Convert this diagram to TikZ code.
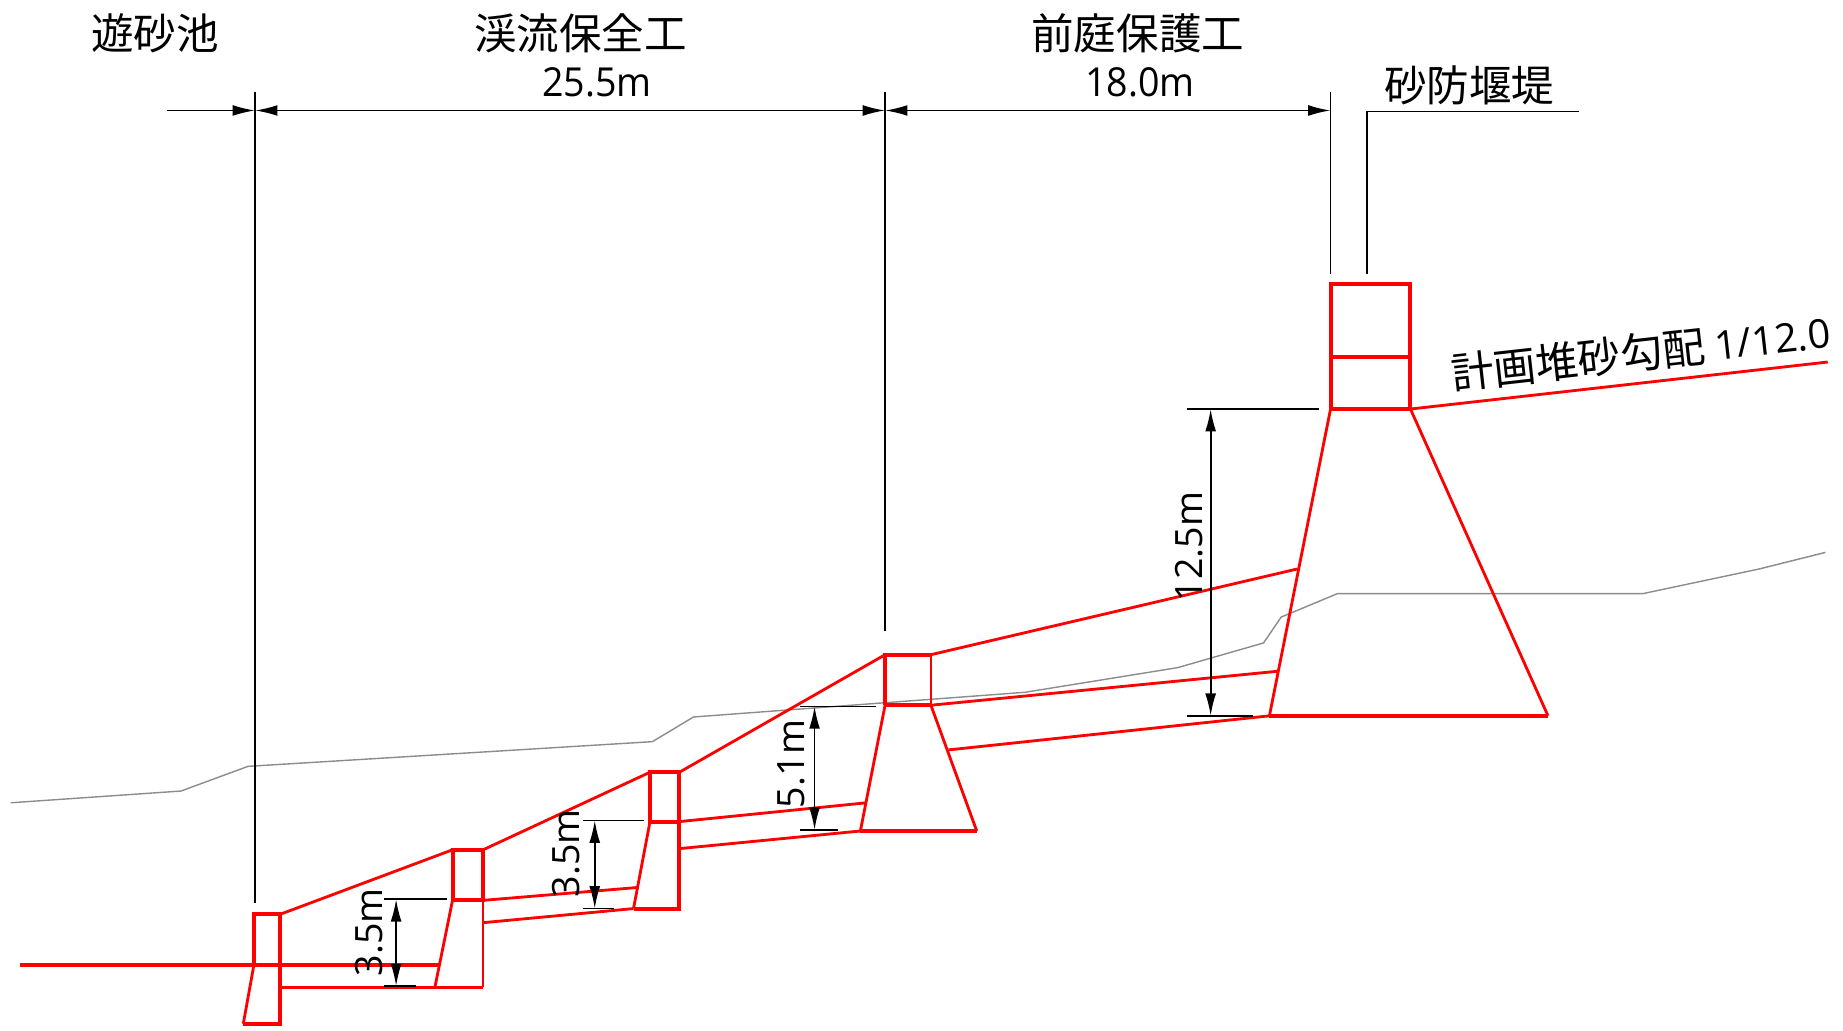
\documentclass[tikz,border=0pt]{standalone}
\usepackage{fontspec}
\setmainfont{Open Sans}
\newfontfamily\cjk{Noto Sans CJK JP}
\usetikzlibrary{arrows.meta}
\tikzset{
  x=0.5pt,y=-0.5pt,
  redthick/.style={draw=red,line width=1.7pt,line join=miter},
  redthin/.style={draw=red,line width=1.2pt},
  ground/.style={draw=black!45,line width=0.6pt},
  leader/.style={draw=black,line width=0.7pt},
  dim/.style={draw=black,line width=0.75pt,{Latex[length=9.5pt,width=4.6pt]}-{Latex[length=9.5pt,width=4.6pt]}},
  dimr/.style={draw=black,line width=0.75pt,-{Latex[length=9.5pt,width=4.6pt]}},
  jp/.style={font=\cjk\fontsize{18.1}{20}\selectfont,inner sep=0pt},
  num/.style={font=\fontsize{17}{20}\selectfont,inner sep=0pt},
  numv/.style={font=\fontsize{16}{20}\selectfont,inner sep=0pt},
}
\begin{document}
\begin{tikzpicture}
\useasboundingbox (0,0) rectangle (1568,877);
% ground
\draw[ground] (9,683) -- (154,673) -- (211,652) -- (555,631) -- (590,610) -- (872,589) -- (1002,568) -- (1075,547) -- (1090,525) -- (1138,505) -- (1398,505) -- (1497,484) -- (1553,470);
% leaders
\coordinate (aT) at (217,78); \coordinate (aB) at (217,768);
\coordinate (bT) at (753,78); \coordinate (bB) at (753,537);
\coordinate (cT) at (1132,78); \coordinate (cB) at (1132,233);
\coordinate (aD) at (217,94); \coordinate (bD) at (753,94); \coordinate (cD) at (1132,94);
\coordinate (sD) at (142,94);
\draw[leader] (aT) -- (aB);
\draw[leader] (bT) -- (bB);
\draw[leader] (cT) -- (cB);
\draw[leader] (1163,233) -- (1163,95) -- (1343,95);
\draw[dimr] (sD) -- (aD);
\draw[dim] (aD) -- (bD);
\draw[dim] (bD) -- (cD);
% dam 1
\draw[redthick] (216,821) -- (216,778) -- (238,778) -- (238,871) -- (207,871);
\draw[redthin] (207,871) -- (216,821);
\draw[redthick] (17,821) -- (374,821);
\draw[redthin] (238,840) -- (411,840);
\draw[redthin] (238,778) -- (385,723);
% dam 2
\draw[redthick] (385,766) -- (385,723) -- (411,723) -- (411,766) -- cycle;
\draw[redthin] (385,766) -- (370,840);
\draw[redthin] (411,766) -- (411,840);
\draw[redthin] (411,766) -- (543,755);
\draw[redthin] (411,785) -- (539,773);
\draw[redthin] (411,723) -- (553,657);
% dam 3
\draw[redthick] (553,699) -- (553,657) -- (578,657) -- (578,699) -- cycle;
\draw[redthin] (553,699) -- (539,773);
\draw[redthick] (539,773) -- (578,773) -- (578,699);
\draw[redthin] (578,699) -- (737,683);
\draw[redthin] (578,722) -- (732,707);
\draw[redthin] (578,657) -- (753,557);
% dam 4
\draw[redthick] (753,600) -- (753,557) -- (792,557);
\draw[redthin] (792,557) -- (792,600);
\draw[redthick] (753,600) -- (792,600);
\draw[redthin] (753,600) -- (732,707);
\draw[redthick] (732,707) -- (831,707);
\draw[redthin] (831,707) -- (792,600);
\draw[redthin] (792,600) -- (1088,571);
\draw[redthin] (807,638) -- (1080,609);
\draw[redthin] (792,557) -- (1104,484);
% dam 5
\draw[redthick] (1132,348) -- (1132,242) -- (1200,242) -- (1200,348) -- cycle;
\draw[redthick] (1132,304) -- (1200,304);
\draw[redthin] (1132,348) -- (1080,609);
\draw[redthick] (1080,609) -- (1317,609);
\draw[redthin] (1317,609) -- (1200,348);
\draw[redthin] (1200,348) -- (1555,308);
% height dims
\draw[leader] (1010,348) -- (1122,348);
\draw[leader] (1010,609) -- (1066,609);
\draw[dim] (1030,348) -- (1030,609);
\draw[leader] (681,601) -- (745,601);
\draw[leader] (681,706) -- (713,706);
\draw[dim] (693,601) -- (693,706);
\draw[leader] (496,698) -- (548,698);
\draw[leader] (496,773) -- (522,773);
\draw[dim] (506,698) -- (506,773);
\draw[leader] (327,765) -- (380,765);
\draw[leader] (327,839) -- (354,839);
\draw[dim] (337,765) -- (337,839);
% labels
\node[jp] (l1) at (132,28) {遊砂池};
\node[jp] (l2) at (494,28) {渓流保全工};
\node[num,xscale=.94] (n1) at (508,70) {25.5m};
\node[jp] (l3) at (968,28) {前庭保護工};
\node[num,xscale=.94] (n2) at (970,70) {18.0m};
\node[jp] (l4) at (1250,73) {砂防堰堤};
\node[jp,rotate=6.4] (l5) at (1396,300) {計画堆砂勾配 {\fontspec{Open Sans}\fontsize{17}{20}\selectfont 1/12.0}};
\node[numv,rotate=90] (h1) at (1012,465) {12.5m};
\node[numv,rotate=90] (h2) at (673,650) {5.1m};
\node[numv,rotate=90] (h3) at (482,726) {3.5m};
\node[numv,rotate=90] (h4) at (314,793) {3.5m};
\end{tikzpicture}
\end{document}
